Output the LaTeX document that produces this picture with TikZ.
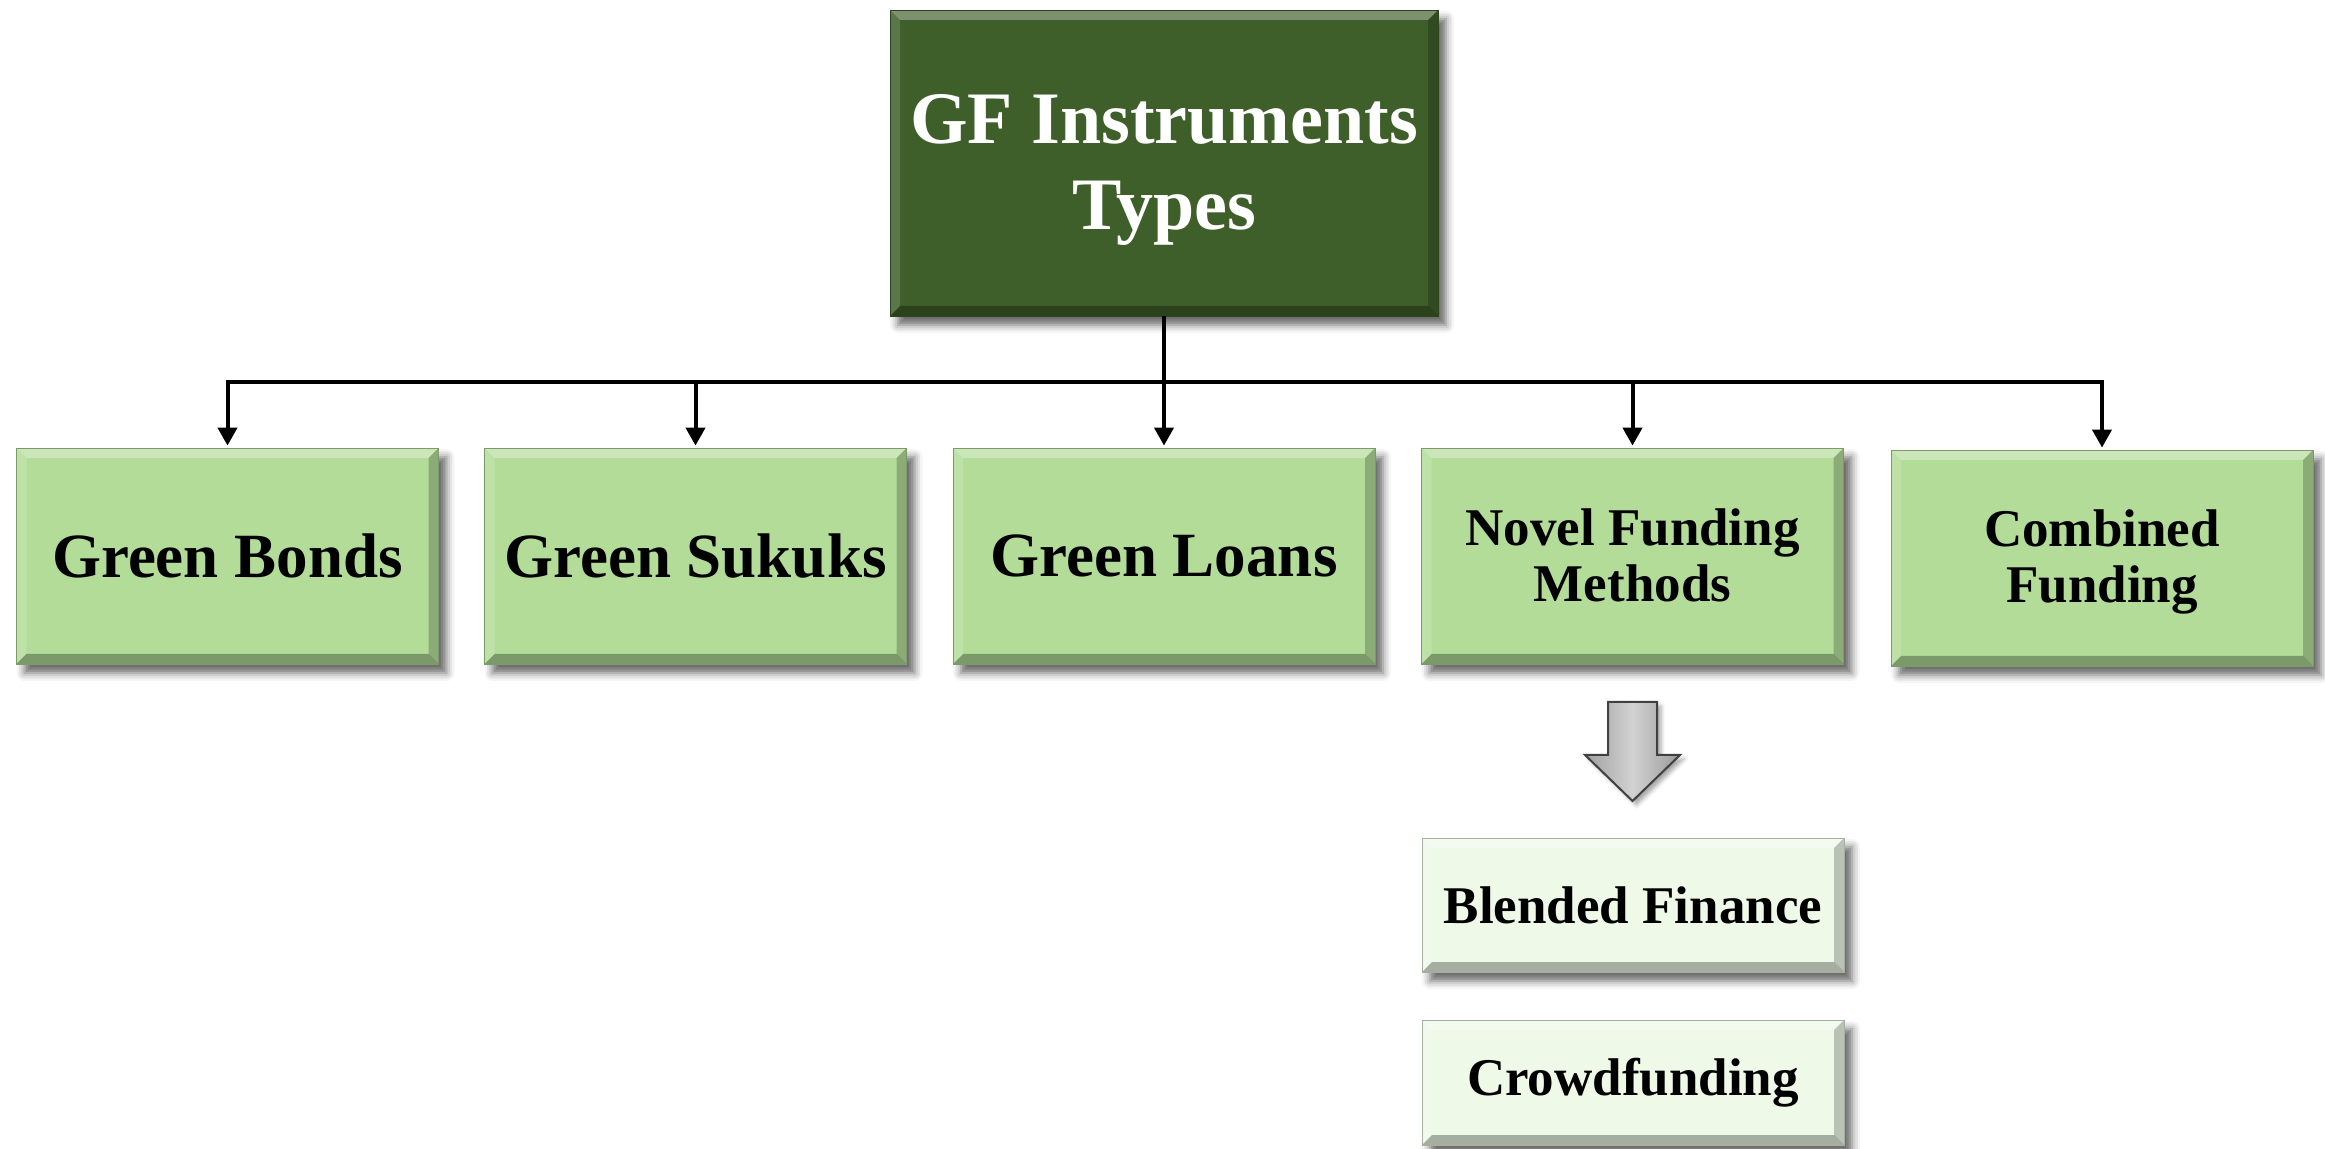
\documentclass[tikz,border=0pt]{standalone}
\usepackage{fontspec}
\setmainfont{Liberation Serif}
\usetikzlibrary{arrows.meta,shadows.blur}
\definecolor{dkgreen}{HTML}{3F5F2A}
\definecolor{ltgreen}{HTML}{B3DC99}
\definecolor{pale}{HTML}{EEF9E8}
\tikzset{
  bevel/.style={path picture={
    \path (path picture bounding box.south west) coordinate (bsw)
          (path picture bounding box.north east) coordinate (bne)
          (bsw|-bne) coordinate (bnw)
          (bne|-bsw) coordinate (bse);
    \fill[white,opacity=.32] (bnw) -- (bne) -- ([shift={(-#1,-#1)}]bne) -- ([shift={(#1,-#1)}]bnw) -- cycle;
    \fill[white,opacity=.15] (bnw) -- ([shift={(#1,-#1)}]bnw) -- ([shift={(#1,#1)}]bsw) -- (bsw) -- cycle;
    \fill[black,opacity=.22] (bne) -- (bse) -- ([shift={(-#1,#1)}]bse) -- ([shift={(-#1,-#1)}]bne) -- cycle;
    \fill[black,opacity=.30] (bsw) -- ([shift={(#1,#1)}]bsw) -- ([shift={(-#1,#1)}]bse) -- (bse) -- cycle;
  }},
  box/.style={draw=#1!70!black, line width=0.4pt, fill=#1, bevel=5pt,
    blur shadow={shadow xshift=4pt, shadow yshift=-4.5pt, shadow blur radius=4pt, shadow opacity=60},
    align=center, inner sep=0pt, text=black},
  mainbox/.style={box=ltgreen, minimum width=211pt, minimum height=108pt,
    font=\fontsize{31.5}{36}\selectfont\bfseries},
  twobox/.style={box=ltgreen, minimum width=211pt, minimum height=108pt},
  twotext/.style={align=center, inner sep=0pt, font=\fontsize{26.5}{28}\selectfont\bfseries},
  subbox/.style={box=pale, minimum width=211pt,
    font=\fontsize{26.5}{30}\selectfont\bfseries},
  conn/.style={line width=2pt, black},
  arr/.style={conn, -{Triangle[width=9.5pt,length=9pt]}, shorten >=1pt},
  garrow/.style={left color=gray!75, right color=gray!80, middle color=gray!35,
    draw=black!75, line width=1pt, line join=miter,
    blur shadow={shadow xshift=2pt, shadow yshift=-2pt, shadow blur radius=2pt, shadow opacity=35}}
}
\begin{document}
\begin{tikzpicture}[x=0.5pt,y=-0.5pt]
\useasboundingbox (0,0) rectangle (2325,1149);
\node[box=dkgreen, minimum width=274pt, minimum height=153pt] (top) at (1164,163) {};
\node[align=center, inner sep=0pt, text=white, font=\fontsize{37}{43}\selectfont\bfseries]
  (toptext) at ([yshift=-3.5pt]top.center) {GF Instruments\\Types};
\node[mainbox] (gb) at (227.5,556) {Green Bonds};
\node[mainbox] (gs) at (695.5,556) {Green Sukuks};
\node[mainbox] (gl) at (1164,556) {Green Loans};
\node[twobox] (nf) at (1632.5,556) {};
\node[twotext] (nftext) at ([yshift=0.5pt]nf.center) {Novel Funding\\Methods};
\node[twobox] (cf) at (2102,558) {};
\node[twotext] (cftext) at ([yshift=-2pt]cf.center) {Combined\\Funding};
\node[subbox, minimum height=67pt] (bf) at (1633,905) {Blended Finance};
\node[subbox, minimum height=62.5pt] (cr) at (1633,1082.5) {Crowdfunding};
\coordinate (bus) at (1164,382);
\draw[conn] (top.south) -- (top.south|-bus);
\foreach \n in {gb,gs,gl,nf,cf}
  \draw[arr] (top.south|-bus) -| (\n.north);
\draw[garrow] (1608,702) -- (1657,702) -- (1657,755) -- (1680,755) -- (1632.5,801)
  -- (1585,755) -- (1608,755) -- cycle;
\end{tikzpicture}
\end{document}
